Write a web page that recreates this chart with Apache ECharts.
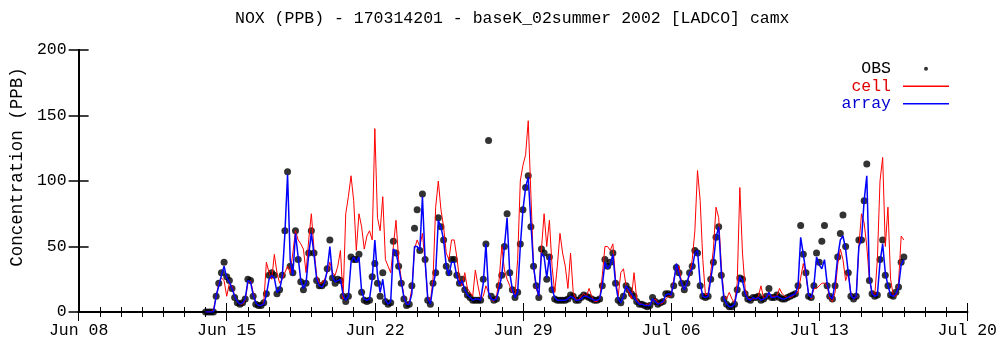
<!DOCTYPE html>
<html>
<head>
<meta charset="utf-8">
<title>NOX (PPB) - 170314201</title>
<script src="https://cdn.jsdelivr.net/npm/echarts@6/dist/echarts.min.js"></script>
<style>
  html, body { margin: 0; padding: 0; background: #fff; }
  #chart { width: 1000px; height: 347px; }
</style>
</head>
<body>
<div id="chart"></div>
<script>
// Hourly NOX samples every 3 hours, starting 2002-06-14 00:00.
// x positions are in days since 2002-06-08 00:00.
const startDay = 6;
const stepDays = 3 / 24;

const tickLabels = ['Jun 08', 'Jun 15', 'Jun 22', 'Jun 29', 'Jul 06', 'Jul 13', 'Jul 20'];

// observed concentrations (ppb)
const obs = [
  0,0,0,0,12,22,30,38,
  27,24,18,11,7,6,7,10,
  25,24,12,6,5,5,7,14,
  28,30,28,14,17,28,62,107,
  35,30,62,40,23,17,22,45,
  62,45,24,20,20,22,33,55,
  26,22,25,24,12,8,12,42,
  40,40,44,15,9,8,9,27,
  37,22,12,30,8,6,7,54,
  45,35,22,10,5,6,20,64,
  78,47,90,40,9,6,22,30,
  72,65,55,35,30,40,40,28,
  22,25,17,13,11,9,9,9,
  9,25,52,131,12,9,10,20,
  28,50,75,30,17,11,15,52,
  78,95,104,65,35,20,11,48,
  45,25,42,17,10,9,9,9,
  9,10,13,12,9,9,11,13,
  12,11,10,9,9,10,20,40,
  35,38,45,22,9,7,12,20,
  17,14,12,8,6,6,5,4,
  5,11,8,6,7,8,14,14,
  13,20,34,30,22,17,22,30,
  35,47,45,20,12,11,12,25,
  38,57,65,28,10,6,4,4,
  6,17,26,25,14,10,9,11,
  11,12,9,10,12,18,11,11,
  13,11,10,10,11,12,13,14,
  20,66,44,30,12,11,20,45,
  38,54,66,20,12,10,20,42,
  60,74,50,30,12,10,12,55,
  55,85,113,24,14,12,13,40,
  55,28,20,13,12,15,19,38,
  42
];

// model, single grid cell (ppb)
const cell = [
  0,0,0,2,12,22,26,24,
  12,22,20,12,8,6,6,9,
  22,24,15,7,5,5,7,38,
  30,25,44,30,22,25,30,35,
  30,45,62,55,52,48,30,55,
  75,48,28,22,22,25,30,38,
  30,28,35,47,10,75,88,104,
  85,47,75,65,48,58,62,55,
  140,72,62,88,40,35,30,50,
  70,40,25,12,6,7,18,48,
  55,50,60,38,12,8,25,80,
  100,78,65,45,40,55,55,42,
  25,20,30,18,15,12,32,20,
  10,12,20,15,10,8,12,25,
  50,32,25,20,15,13,40,100,
  112,120,146,90,35,18,12,48,
  75,50,70,35,15,35,60,45,
  35,18,45,15,10,9,12,14,
  12,18,12,8,8,10,28,50,
  50,47,52,25,12,30,33,20,
  15,10,30,10,7,6,5,6,
  6,8,10,7,6,7,10,12,
  12,25,33,35,22,17,22,28,
  40,62,108,85,40,13,14,30,
  48,80,72,35,12,10,15,10,
  7,22,95,45,18,10,10,10,
  10,12,20,10,12,13,12,12,
  12,18,14,12,11,11,12,14,
  15,26,37,27,14,10,18,18,
  20,22,22,20,10,8,15,36,
  48,40,24,30,14,10,11,50,
  75,68,50,25,15,12,40,100,
  118,50,80,25,13,12,22,58,
  55
];

// model, cell array (ppb)
const array = [
  0,0,0,0,12,20,28,35,
  26,23,18,12,8,6,7,10,
  24,23,13,7,5,5,6,13,
  25,28,26,15,17,27,60,105,
  40,28,60,42,24,18,22,44,
  60,44,25,20,19,22,32,50,
  27,23,24,25,13,9,12,38,
  42,38,42,16,10,9,10,25,
  55,28,15,25,9,6,8,48,
  46,35,23,11,6,6,14,50,
  50,47,88,40,10,6,20,30,
  70,65,55,35,28,38,38,27,
  21,24,17,13,11,9,10,10,
  9,22,52,15,10,9,10,18,
  28,50,72,30,17,11,15,50,
  78,95,103,68,35,20,12,45,
  42,26,43,18,11,9,9,9,
  9,10,12,11,9,9,10,12,
  12,11,10,9,9,10,20,38,
  33,36,44,22,10,7,12,20,
  17,14,11,8,6,6,5,5,
  5,10,8,6,7,8,13,14,
  13,22,37,29,22,17,22,30,
  33,45,47,22,12,11,12,25,
  38,57,65,30,10,6,4,4,
  6,16,27,24,14,10,9,11,
  10,11,9,10,11,15,11,11,
  12,11,10,10,11,12,13,14,
  20,57,44,30,13,11,20,42,
  36,33,40,22,12,10,22,42,
  55,58,48,30,13,10,12,50,
  55,85,104,26,14,12,13,38,
  52,30,20,13,12,14,19,36,
  40
];

const toPairs = arr => arr.map((v, i) => [startDay + i * stepDays, v]);

const FONT = "'Liberation Mono', 'DejaVu Sans Mono', monospace";
const FS = 16.5;
// thin bar used as the legend key of the two model lines
const LINE_ICON = 'path://M0,0H46V1.5H0Z';

const chart = echarts.init(document.getElementById('chart'), null, { renderer: 'canvas' });

const xCommon = {
  type: 'value',
  min: 0,
  max: 42,
  interval: 7,
  splitLine: { show: false },
  axisLine: { show: true, lineStyle: { color: '#000', width: 2 } },
  axisTick: { show: true, inside: true, length: 9, lineStyle: { color: '#000', width: 1 } },
  minorTick: { show: true, splitNumber: 7, length: 5, lineStyle: { color: '#000', width: 1 } },
  minorSplitLine: { show: false }
};

const yCommon = {
  type: 'value',
  min: 0,
  max: 200,
  interval: 50,
  splitLine: { show: false },
  axisLine: { show: true, lineStyle: { color: '#000', width: 2 } },
  axisTick: { show: true, inside: true, length: 10, lineStyle: { color: '#000', width: 1.5 } }
};

chart.setOption({
  animation: false,
  backgroundColor: '#fff',
  textStyle: { fontFamily: FONT },
  title: {
    text: 'NOX (PPB) - 170314201 - baseK_02summer 2002 [LADCO] camx',
    left: 230,
    top: 5,
    textStyle: { fontFamily: FONT, fontSize: FS, fontWeight: 'normal', color: '#000' }
  },
  legend: {
    orient: 'vertical',
    align: 'right',
    right: 51,
    top: 60,
    padding: 0,
    itemWidth: 46,
    itemHeight: 4,
    itemGap: 0,
    selectedMode: false,
    textStyle: { fontFamily: FONT, fontSize: FS, lineHeight: 17.5, padding: [0, 7, 0, 0] },
    data: [
      { name: 'OBS', icon: 'circle', textStyle: { color: '#000' } },
      { name: 'cell', icon: LINE_ICON, textStyle: { color: '#e00000' } },
      { name: 'array', icon: LINE_ICON, textStyle: { color: '#0000d0' } }
    ]
  },
  grid: { left: 78, right: 30, top: 50, bottom: 35, containLabel: false },
  xAxis: [
    Object.assign({}, xCommon, {
      position: 'bottom',
      axisLabel: {
        show: true,
        margin: 10,
        color: '#000',
        fontFamily: FONT,
        fontSize: FS,
        formatter: v => tickLabels[Math.round(v / 7)] || ''
      }
    }),
    Object.assign({}, xCommon, {
      position: 'top',
      axisLabel: { show: false }
    })
  ],
  yAxis: [
    Object.assign({}, yCommon, {
      position: 'left',
      name: 'Concentration (PPB)',
      nameLocation: 'middle',
      nameGap: 52,
      nameTextStyle: { fontFamily: FONT, fontSize: 17.5, color: '#000', padding: [0, 0, 0, 28] },
      axisLabel: { show: true, margin: 12, color: '#000', fontFamily: FONT, fontSize: FS }
    }),
    Object.assign({}, yCommon, {
      position: 'right',
      axisLabel: { show: false }
    })
  ],
  series: [
    {
      name: 'OBS',
      type: 'scatter',
      xAxisIndex: 0,
      yAxisIndex: 0,
      symbol: 'circle',
      symbolSize: 7,
      itemStyle: { color: '#000' },
      data: toPairs(obs),
      z: 2
    },
    {
      name: 'cell',
      type: 'line',
      xAxisIndex: 0,
      yAxisIndex: 0,
      showSymbol: false,
      symbol: 'none',
      lineStyle: { color: '#ff0000', width: 1 },
      itemStyle: { color: '#ff0000' },
      data: toPairs(cell),
      z: 3
    },
    {
      name: 'array',
      type: 'line',
      xAxisIndex: 0,
      yAxisIndex: 0,
      showSymbol: false,
      symbol: 'none',
      lineStyle: { color: '#0000ff', width: 1.5 },
      itemStyle: { color: '#0000ff' },
      data: toPairs(array),
      z: 4
    }
  ]
});
</script>
</body>
</html>
